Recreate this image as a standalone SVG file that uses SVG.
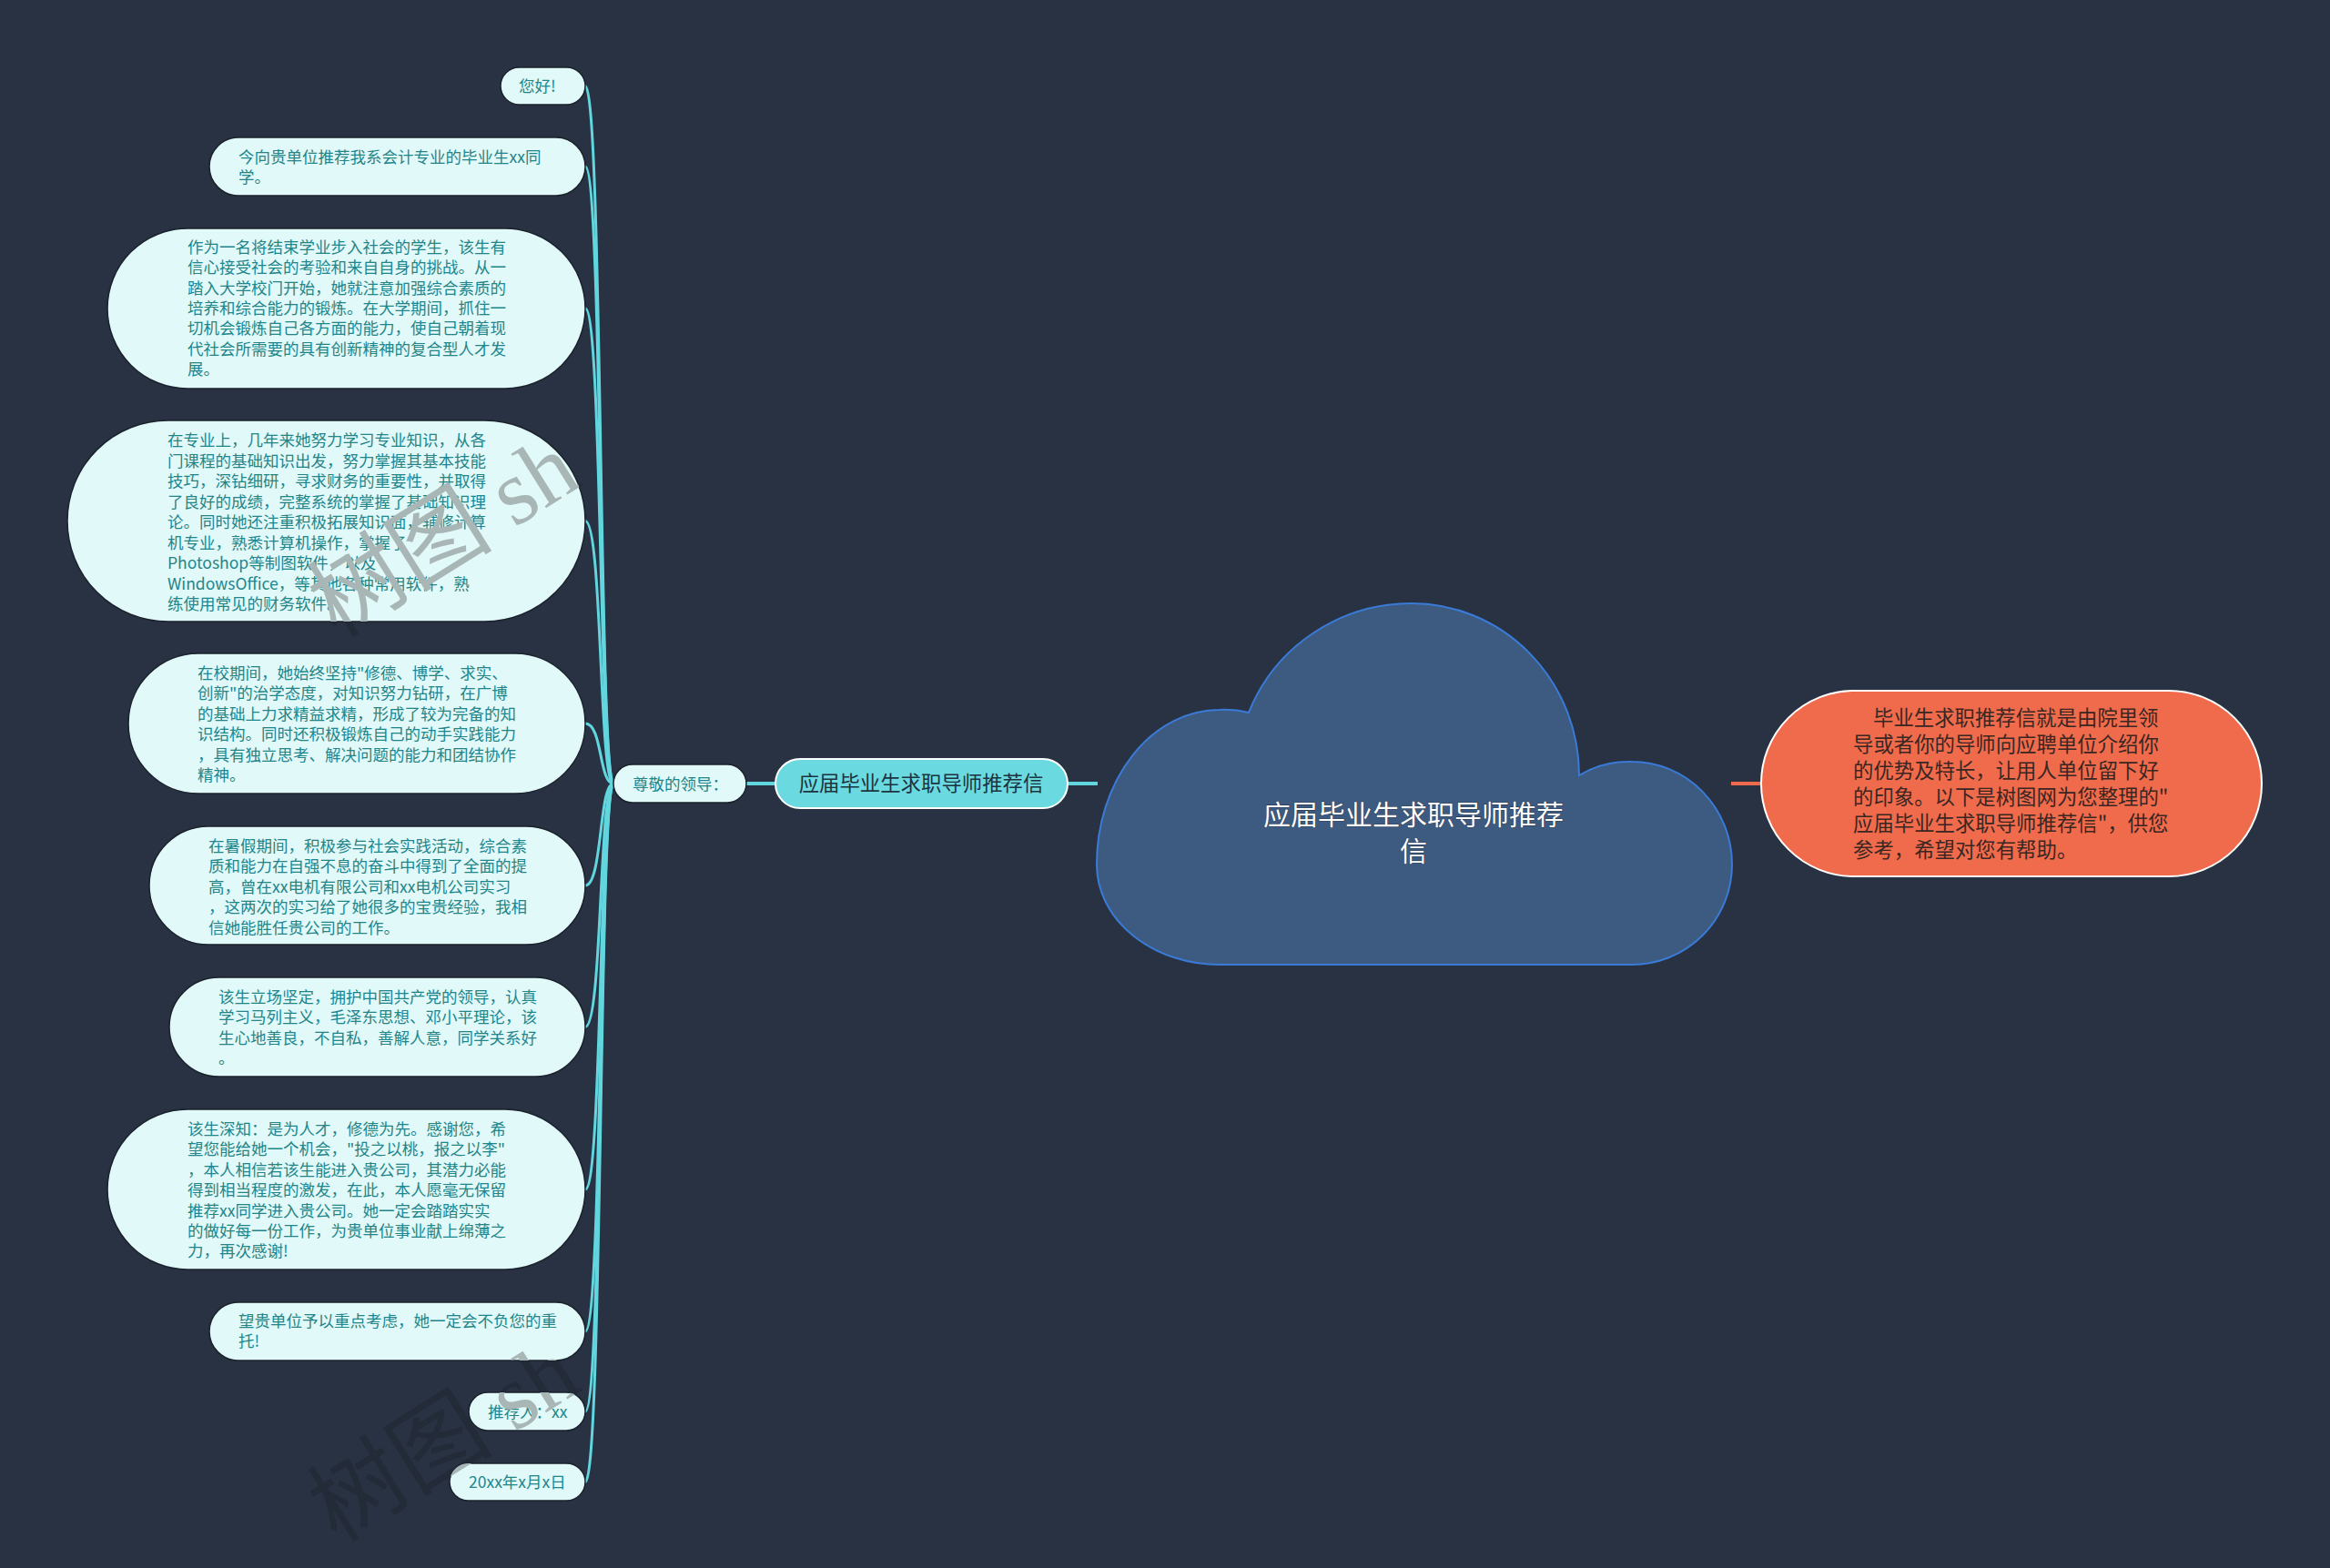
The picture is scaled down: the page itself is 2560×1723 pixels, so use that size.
<svg xmlns="http://www.w3.org/2000/svg" width="2560" height="1723" viewBox="0 0 2560 1723">
<defs>
<style>
.bg{fill:#283242}
.link{fill:none;stroke:#62d6de;stroke-width:3}
.trunk{fill:none;stroke:#62d6de;stroke-width:4}
.leaf rect{fill:#e1f9f9;stroke:#1b222d;stroke-width:1.5}
.leaf text{font-family:"Noto Sans CJK SC","Noto Sans",sans-serif;font-size:17.5px;fill:#22858a}
.l1 rect{fill:#6adae0;stroke:#ffffff;stroke-width:2}
.l1 text{font-family:"Noto Sans CJK SC","Noto Sans",sans-serif;font-size:22.4px;fill:#1c3340}
.root path{fill:#3d5a80;stroke:#3a7bd8;stroke-width:2}
.root text{font-family:"Noto Sans CJK SC","Noto Sans",sans-serif;font-size:30px;fill:#ffffff;stroke:#1e2a3a;stroke-width:0.6;paint-order:stroke}
.note rect{fill:#ef6b4c;stroke:#ffffff;stroke-width:2}
.note text{font-family:"Noto Sans CJK SC","Noto Sans",sans-serif;font-size:22.4px;fill:#3a2622}
.wm{font-family:"Liberation Serif","Noto Sans CJK SC",serif;font-size:102px}
.wm-light{fill:#a9b6b6}
.wm-dark{fill:#232b39}
</style>
<clipPath id="nodeclip">
<rect x="550" y="74" width="93" height="41" rx="20.5"/>
<rect x="230" y="151" width="413" height="64" rx="32"/>
<rect x="118" y="251" width="525" height="176" rx="88"/>
<rect x="74" y="462" width="569" height="221" rx="110.5"/>
<rect x="141" y="718" width="502" height="154" rx="77"/>
<rect x="164" y="908" width="479" height="130" rx="65"/>
<rect x="186" y="1074" width="457" height="109" rx="54.5"/>
<rect x="118" y="1219" width="525" height="176" rx="88"/>
<rect x="230" y="1431" width="413" height="64" rx="32"/>
<rect x="515" y="1530" width="128" height="42" rx="21"/>
<rect x="494" y="1608" width="149" height="41" rx="20.5"/>
</clipPath>
</defs>
<rect class="bg" x="0" y="0" width="2560" height="1723"/>

<g id="watermark-back" class="wm wm-dark">
<text x="370" y="702" transform="rotate(-32 370 702)">树图 sh</text>
<text x="370" y="1696" transform="rotate(-32 370 1696)">树图 sh</text>
</g>

<g id="connectors">
<path class="link" d="M 674 861 C 658 861, 662 94.5, 643 94.5"/>
<path class="link" d="M 674 861 C 658 861, 662 183, 643 183"/>
<path class="link" d="M 674 861 C 658 861, 662 339, 643 339"/>
<path class="link" d="M 674 861 C 658 861, 662 572.5, 643 572.5"/>
<path class="link" d="M 674 861 C 658 861, 662 795, 643 795"/>
<path class="link" d="M 674 861 C 658 861, 662 973, 643 973"/>
<path class="link" d="M 674 861 C 658 861, 662 1128.5, 643 1128.5"/>
<path class="link" d="M 674 861 C 658 861, 662 1307, 643 1307"/>
<path class="link" d="M 674 861 C 658 861, 662 1463, 643 1463"/>
<path class="link" d="M 674 861 C 658 861, 662 1551, 643 1551"/>
<path class="link" d="M 674 861 C 658 861, 662 1628.5, 643 1628.5"/>
<path class="trunk" d="M 820 861 L 852 861"/>
<path class="trunk" d="M 1173 861 L 1206 861"/>
<path fill="none" stroke="#ef6b4c" stroke-width="4" d="M 1902 861 L 1936 861"/>
</g>

<g id="node-root" class="root">
<path d="M 1340 1060 A 135 110 0 0 1 1205 950 A 135 170 0 0 1 1340 780 A 135 170 0 0 1 1372 783 A 192 189 0 0 1 1551 663 A 184 189 0 0 1 1735 852 A 110 113 0 0 1 1793 837 A 110 113 0 0 1 1903 950 A 110 110 0 0 1 1793 1060 Z"/>
<text text-anchor="middle"><tspan x="1553" y="906">应届毕业生求职导师推荐</tspan><tspan x="1553" y="946">信</tspan></text>
</g>

<g id="node-main" class="l1">
<rect x="852" y="834" width="321" height="54" rx="27"/>
<text x="1012" y="869" text-anchor="middle">应届毕业生求职导师推荐信</text>
</g>

<g id="node-summary" class="note">
<rect x="1935" y="759" width="550" height="204" rx="102"/>
<text><tspan x="2058" y="797">毕业生求职推荐信就是由院里领</tspan><tspan x="2036" y="826">导或者你的导师向应聘单位介绍你</tspan><tspan x="2036" y="855">的优势及特长，让用人单位留下好</tspan><tspan x="2036" y="884">的印象。以下是树图网为您整理的"</tspan><tspan x="2036" y="913">应届毕业生求职导师推荐信"，供您</tspan><tspan x="2036" y="942">参考，希望对您有帮助。</tspan></text>
</g>

<g id="node-greeting" class="leaf">
<rect x="674" y="840" width="146" height="42" rx="21"/>
<text x="695" y="868">尊敬的领导：</text>
</g>

<g id="node-1" class="leaf">
<rect x="550" y="74" width="93" height="41" rx="20.5"/>
<text x="570" y="101">您好!</text>
</g>

<g id="node-2" class="leaf">
<rect x="230" y="151" width="413" height="64" rx="32"/>
<text><tspan x="262" y="179">今向贵单位推荐我系会计专业的毕业生xx同</tspan><tspan x="262" y="201">学。</tspan></text>
</g>

<g id="node-3" class="leaf">
<rect x="118" y="251" width="525" height="176" rx="88"/>
<text><tspan x="206" y="278">作为一名将结束学业步入社会的学生，该生有</tspan><tspan x="206" y="300.3">信心接受社会的考验和来自自身的挑战。从一</tspan><tspan x="206" y="322.6">踏入大学校门开始，她就注意加强综合素质的</tspan><tspan x="206" y="345">培养和综合能力的锻炼。在大学期间，抓住一</tspan><tspan x="206" y="367.3">切机会锻炼自己各方面的能力，使自己朝着现</tspan><tspan x="206" y="389.6">代社会所需要的具有创新精神的复合型人才发</tspan><tspan x="206" y="412">展。</tspan></text>
</g>

<g id="node-4" class="leaf">
<rect x="74" y="462" width="569" height="221" rx="110.5"/>
<text><tspan x="184" y="490">在专业上，几年来她努力学习专业知识，从各</tspan><tspan x="184" y="512.5">门课程的基础知识出发，努力掌握其基本技能</tspan><tspan x="184" y="535">技巧，深钻细研，寻求财务的重要性，并取得</tspan><tspan x="184" y="557.5">了良好的成绩，完整系统的掌握了基础知识理</tspan><tspan x="184" y="580">论。同时她还注重积极拓展知识面，辅修计算</tspan><tspan x="184" y="602.5">机专业，熟悉计算机操作，掌握了</tspan><tspan x="184" y="625">Photoshop等制图软件，以及</tspan><tspan x="184" y="647.5">WindowsOffice，等其他各种常用软件，熟</tspan><tspan x="184" y="670">练使用常见的财务软件。</tspan></text>
</g>

<g id="node-5" class="leaf">
<rect x="141" y="718" width="502" height="154" rx="77"/>
<text><tspan x="217" y="746">在校期间，她始终坚持"修德、博学、求实、</tspan><tspan x="217" y="768.4">创新"的治学态度，对知识努力钻研，在广博</tspan><tspan x="217" y="790.8">的基础上力求精益求精，形成了较为完备的知</tspan><tspan x="217" y="813.2">识结构。同时还积极锻炼自己的动手实践能力</tspan><tspan x="217" y="835.6">，具有独立思考、解决问题的能力和团结协作</tspan><tspan x="217" y="858">精神。</tspan></text>
</g>

<g id="node-6" class="leaf">
<rect x="164" y="908" width="479" height="130" rx="65"/>
<text><tspan x="229" y="936">在暑假期间，积极参与社会实践活动，综合素</tspan><tspan x="229" y="958.4">质和能力在自强不息的奋斗中得到了全面的提</tspan><tspan x="229" y="980.8">高，曾在xx电机有限公司和xx电机公司实习</tspan><tspan x="229" y="1003.2">，这两次的实习给了她很多的宝贵经验，我相</tspan><tspan x="229" y="1025.6">信她能胜任贵公司的工作。</tspan></text>
</g>

<g id="node-7" class="leaf">
<rect x="186" y="1074" width="457" height="109" rx="54.5"/>
<text><tspan x="240" y="1102">该生立场坚定，拥护中国共产党的领导，认真</tspan><tspan x="240" y="1124.4">学习马列主义，毛泽东思想、邓小平理论，该</tspan><tspan x="240" y="1146.8">生心地善良，不自私，善解人意，同学关系好</tspan><tspan x="240" y="1169.2">。</tspan></text>
</g>

<g id="node-8" class="leaf">
<rect x="118" y="1219" width="525" height="176" rx="88"/>
<text><tspan x="206" y="1247">该生深知：是为人才，修德为先。感谢您，希</tspan><tspan x="206" y="1269.4">望您能给她一个机会，"投之以桃，报之以李"</tspan><tspan x="206" y="1291.8">，本人相信若该生能进入贵公司，其潜力必能</tspan><tspan x="206" y="1314.2">得到相当程度的激发，在此，本人愿毫无保留</tspan><tspan x="206" y="1336.6">推荐xx同学进入贵公司。她一定会踏踏实实</tspan><tspan x="206" y="1359">的做好每一份工作，为贵单位事业献上绵薄之</tspan><tspan x="206" y="1381.4">力，再次感谢!</tspan></text>
</g>

<g id="node-9" class="leaf">
<rect x="230" y="1431" width="413" height="64" rx="32"/>
<text><tspan x="262" y="1458">望贵单位予以重点考虑，她一定会不负您的重</tspan><tspan x="262" y="1480.4">托!</tspan></text>
</g>

<g id="node-10" class="leaf">
<rect x="515" y="1530" width="128" height="42" rx="21"/>
<text x="536" y="1558">推荐人：xx</text>
</g>

<g id="node-11" class="leaf">
<rect x="494" y="1608" width="149" height="41" rx="20.5"/>
<text x="515" y="1635">20xx年x月x日</text>
</g>

<g id="watermark" class="wm wm-light" clip-path="url(#nodeclip)">
<text x="370" y="702" transform="rotate(-32 370 702)">树图 sh</text>
<text x="370" y="1696" transform="rotate(-32 370 1696)">树图 sh</text>
</g>
</svg>
